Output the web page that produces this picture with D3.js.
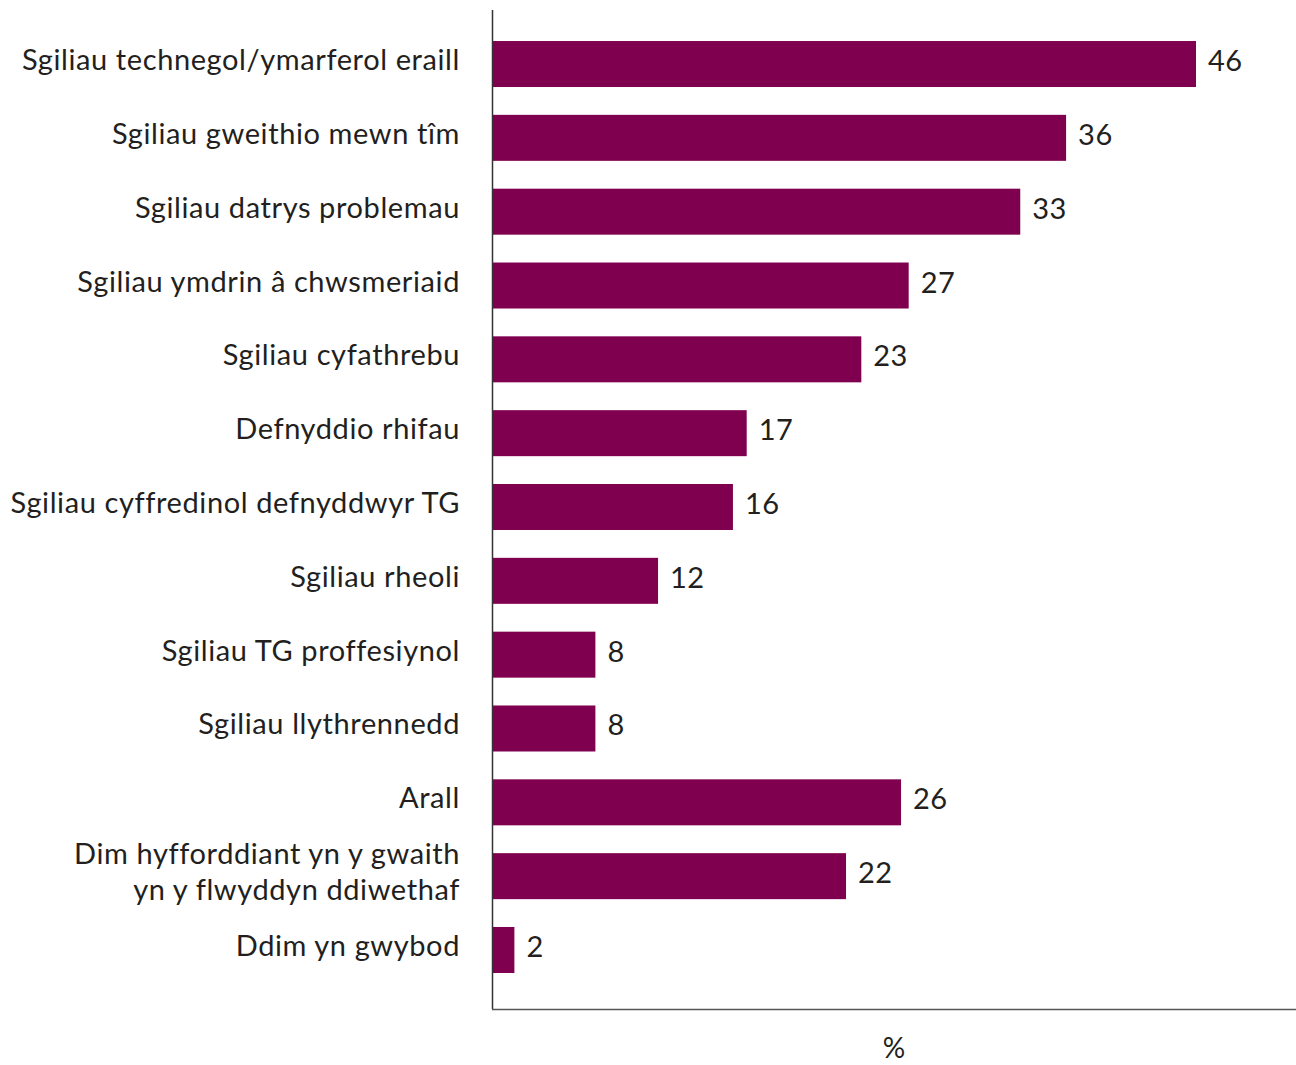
<!DOCTYPE html>
<html>
<head>
<meta charset="utf-8">
<script src="https://cdn.jsdelivr.net/npm/d3@7"></script>
<style>
  body { margin: 0; background: #fff; }
  text { font-family: Lato, "Open Sans", sans-serif; fill: #231f20; }
</style>
</head>
<body>
<svg width="1296" height="1065"></svg>
<script>
var width = 1296;
var height = 1065;

// categories, top to bottom
var categories = [
  "Sgiliau technegol/ymarferol eraill",
  "Sgiliau gweithio mewn tîm",
  "Sgiliau datrys problemau",
  "Sgiliau ymdrin â chwsmeriaid",
  "Sgiliau cyfathrebu",
  "Defnyddio rhifau",
  "Sgiliau cyffredinol defnyddwyr TG",
  "Sgiliau rheoli",
  "Sgiliau TG proffesiynol",
  "Sgiliau llythrennedd",
  "Arall",
  "Dim hyfforddiant yn y gwaith\nyn y flwyddyn ddiwethaf",
  "Ddim yn gwybod"
];

// bar lengths as drawn
var barValues = [46, 37.5, 34.5, 27.2, 24.1, 16.6, 15.7, 10.8, 6.7, 6.7, 26.7, 23.1, 1.4];

// printed value labels
var valueLabels = ["46", "36", "33", "27", "23", "17", "16", "12", "8", "8", "26", "22", "2"];

var svg = d3.select("svg");

var x = d3.scaleLinear()
  .domain([0, 50])
  .range([493, 493 + 50 * 703 / 46]);

var y = d3.scaleBand()
  .domain(d3.range(categories.length))
  .range([27.1, 986.9])
  .paddingInner(0.377)
  .paddingOuter(0.1885);

// bars
svg.selectAll("rect.bar")
  .data(barValues).enter()
  .append("rect")
  .attr("class", "bar")
  .attr("x", x(0))
  .attr("y", function (d, i) { return y(i); })
  .attr("width", function (d) { return x(d) - x(0); })
  .attr("height", y.bandwidth())
  .attr("fill", "#800050");

// value labels
svg.selectAll("text.val")
  .data(barValues).enter()
  .append("text")
  .attr("class", "val")
  .attr("x", function (d) { return x(d) + 12; })
  .attr("y", function (d, i) { return y(i) + y.bandwidth() / 2 + 7; })
  .attr("font-size", "29px")
  .attr("letter-spacing", "0.5px")
  .text(function (d, i) { return valueLabels[i]; });

// category labels
var cat = svg.selectAll("text.cat")
  .data(categories).enter()
  .append("text")
  .attr("class", "cat")
  .attr("text-anchor", "end")
  .attr("font-size", "29px")
  .attr("letter-spacing", "0.6px");

cat.each(function (d, i) {
  var lines = d.split("\n");
  var mid = y(i) + y.bandwidth() / 2;
  var start = lines.length > 1 ? mid - 12 : mid + 6;
  d3.select(this).selectAll("tspan")
    .data(lines).enter()
    .append("tspan")
    .attr("x", 460)
    .attr("y", function (l, j) { return start + j * 36; })
    .text(function (l) { return l; });
});

// axis lines
svg.append("line")
  .attr("x1", 492.5).attr("x2", 492.5)
  .attr("y1", 10).attr("y2", 1009)
  .attr("stroke", "#333").attr("stroke-width", 1.5);

svg.append("line")
  .attr("x1", 492).attr("x2", width)
  .attr("y1", 1009.5).attr("y2", 1009.5)
  .attr("stroke", "#555").attr("stroke-width", 1.5);

svg.append("text")
  .attr("x", (492 + width) / 2)
  .attr("y", 1058)
  .attr("text-anchor", "middle")
  .attr("font-size", "28px")
  .text("%");
</script>
</body>
</html>
